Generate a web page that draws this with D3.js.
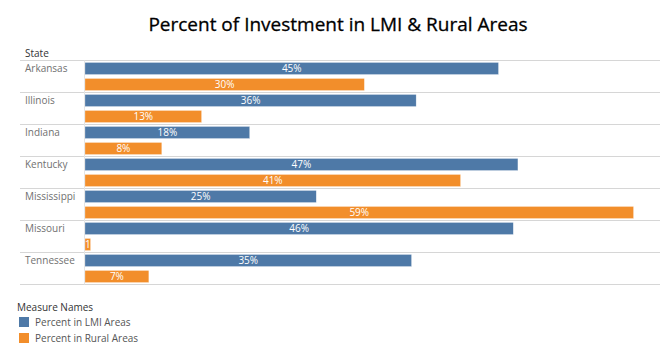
<!DOCTYPE html>
<html>
<head>
<meta charset="utf-8">
<script src="https://cdn.jsdelivr.net/npm/d3@7"></script>
<style>
  body { margin: 0; background: #fff; }
  svg { font-family: "Open Sans", "Noto Sans", sans-serif; }
</style>
</head>
<body>
<div id="chart"></div>
<script>
// data
const states = ['Arkansas', 'Illinois', 'Indiana', 'Kentucky', 'Mississippi', 'Missouri', 'Tennessee'];
const measures = ['Percent in LMI Areas', 'Percent in Rural Areas'];
const lmiValues = [44.7, 35.8, 17.8, 46.8, 25.0, 46.3, 35.3];
const ruralValues = [30.2, 12.6, 8.3, 40.6, 59.3, 0.6, 6.9];
const colors = ['#4e79a7', '#f28e2b'];

const width = 660, height = 364;

const data = [];
states.forEach((s, i) => {
    data.push({ state: s, measure: measures[0], value: lmiValues[i] });
    data.push({ state: s, measure: measures[1], value: ruralValues[i] });
});

const svg = d3.select('#chart')
    .append('svg')
    .attr('width', width)
    .attr('height', height);

// title
svg.append('text')
    .attr('x', 338)
    .attr('y', 31)
    .attr('text-anchor', 'middle')
    .style('font-size', '19px')
    .style('fill', '#000')
    .style('stroke', '#000')
    .style('stroke-width', 0.3)
    .text('Percent of Investment in LMI & Rural Areas');

svg.append('text')
    .attr('x', 25)
    .attr('y', 57)
    .style('font-size', '10px')
    .style('fill', '#333')
    .text('State');

const xScale = d3.scaleLinear()
    .domain([0, 60])
    .range([85, 640]);

const yScale = d3.scaleBand()
    .domain(states)
    .range([60.5, 284.5]);

const subScale = d3.scaleBand()
    .domain(measures)
    .range([0, yScale.bandwidth()])
    .paddingInner(0.25)
    .paddingOuter(0.125);

const color = d3.scaleOrdinal()
    .domain(measures)
    .range(colors);

// row lines
svg.selectAll('.row-line')
    .data(states.concat(['end']))
    .enter()
    .append('line')
    .classed('row-line', true)
    .attr('x1', 20)
    .attr('x2', width)
    .attr('y1', (d, i) => i < states.length ? yScale(d) : yScale.range()[1])
    .attr('y2', (d, i) => i < states.length ? yScale(d) : yScale.range()[1])
    .attr('stroke', '#d6d6d6')
    .attr('stroke-width', 1);

svg.append('line')
    .attr('x1', xScale(0) - 0.5)
    .attr('x2', xScale(0) - 0.5)
    .attr('y1', yScale.range()[0])
    .attr('y2', yScale.range()[1])
    .attr('stroke', '#e4e4e4');

// state labels
svg.selectAll('.state-label')
    .data(states)
    .enter()
    .append('text')
    .classed('state-label', true)
    .attr('x', 25)
    .attr('y', d => yScale(d) + 11)
    .style('font-size', '10px')
    .style('fill', '#707070')
    .text(d => d);

const defs = svg.append('defs');
defs.selectAll('clipPath')
    .data(data)
    .enter()
    .append('clipPath')
    .attr('id', (d, i) => 'clip' + i)
    .append('rect')
    .attr('x', xScale(0))
    .attr('y', d => yScale(d.state) + subScale(d.measure))
    .attr('width', d => xScale(d.value) - xScale(0))
    .attr('height', subScale.bandwidth());

svg.selectAll('.bar')
    .data(data)
    .enter()
    .append('rect')
    .classed('bar', true)
    .attr('x', xScale(0))
    .attr('y', d => yScale(d.state) + subScale(d.measure))
    .attr('width', d => xScale(d.value) - xScale(0))
    .attr('height', subScale.bandwidth())
    .attr('fill', d => color(d.measure))
    .attr('stroke', '#ffffff')
    .attr('stroke-opacity', 0.5)
    .attr('stroke-width', 0.5);

// labels that don't fit start at the bar's left edge and get clipped
const fits = d => xScale(d.value) - xScale(0) > 24;

svg.selectAll('.bar-label')
    .data(data)
    .enter()
    .append('text')
    .classed('bar-label', true)
    .attr('clip-path', (d, i) => `url(#clip${i})`)
    .attr('x', d => fits(d) ? (xScale(0) + xScale(d.value)) / 2 : xScale(0))
    .attr('y', d => yScale(d.state) + subScale(d.measure) + subScale.bandwidth() / 2)
    .attr('dy', '0.36em')
    .attr('text-anchor', d => fits(d) ? 'middle' : 'start')
    .style('font-size', '10px')
    .style('fill', '#fff')
    .text(d => Math.round(d.value) + '%');

// legend
svg.append('text')
    .attr('x', 17)
    .attr('y', 311)
    .style('font-size', '10px')
    .style('fill', '#333')
    .text('Measure Names');

const legend = svg.selectAll('.legend')
    .data(measures)
    .enter()
    .append('g')
    .classed('legend', true)
    .attr('transform', (d, i) => `translate(19,${317 + i * 16})`);

legend.append('rect')
    .attr('width', 10)
    .attr('height', 10)
    .attr('fill', d => color(d));

legend.append('text')
    .attr('x', 16)
    .attr('y', 5)
    .attr('dy', '0.36em')
    .style('font-size', '10px')
    .style('fill', '#555')
    .text(d => d);
</script>
</body>
</html>
